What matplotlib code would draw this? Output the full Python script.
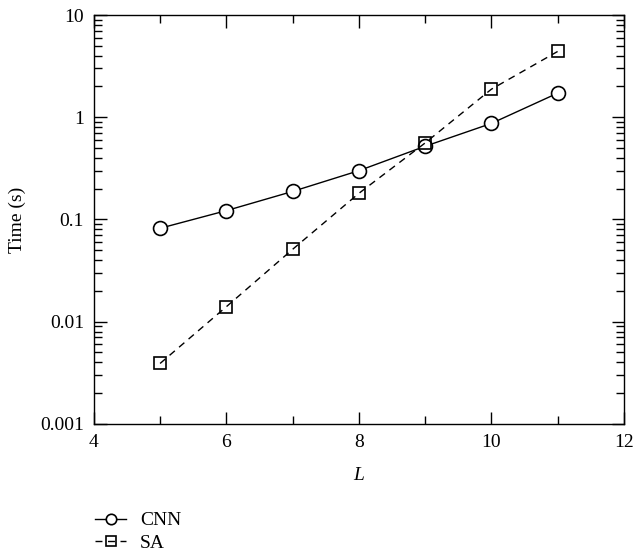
import matplotlib
matplotlib.use('Agg')
import matplotlib.pyplot as plt
from matplotlib.ticker import LogLocator, FixedLocator, NullFormatter

plt.rcParams['font.family'] = ['Liberation Serif', 'DejaVu Serif']
plt.rcParams['font.size'] = 14

# data
L = [5, 6, 7, 8, 9, 10, 11]
cnn_time = [0.082, 0.122, 0.188, 0.30, 0.52, 0.87, 1.72]
sa_time = [0.0039, 0.014, 0.051, 0.18, 0.56, 1.88, 4.4]

fig = plt.figure(figsize=(6.34, 5.57), dpi=100)
ax = fig.add_axes([0.148, 0.239, 0.836, 0.734])

ax.plot(L, cnn_time, '-', color='black', lw=1.0, marker='o', ms=10,
        mfc='white', mec='black', mew=1.2, label='CNN')
ax.plot(L, sa_time, '--', color='black', lw=1.0, dashes=(5, 4), marker='s', ms=9,
        mfc='none', mec='black', mew=1.2, label='SA')

ax.set_yscale('log')
ax.set_xlim(4, 12)
ax.set_ylim(0.001, 10)
ax.set_xticks([4, 6, 8, 10, 12])
ax.xaxis.set_minor_locator(FixedLocator([5, 7, 9, 11]))
ax.set_yticks([0.001, 0.01, 0.1, 1, 10])
ax.set_yticklabels(['0.001', '0.01', '0.1', '1', '10'])
ax.yaxis.set_minor_locator(LogLocator(base=10, subs=range(2, 10)))
ax.yaxis.set_minor_formatter(NullFormatter())

ax.tick_params(which='both', direction='in', top=True, right=True, width=1.0)
ax.tick_params(which='major', length=9, pad=7)
ax.tick_params(which='minor', length=6)
for s in ax.spines.values():
    s.set_linewidth(1.0)

ax.set_xlabel('L', fontstyle='italic', fontsize=14, labelpad=12)
ax.set_ylabel('Time (s)', fontsize=14, labelpad=10)

fig.legend(loc='upper left', bbox_to_anchor=(0.138, 0.095), frameon=False,
           handlelength=1.6, handletextpad=0.7, labelspacing=0.25, borderaxespad=0,
           markerscale=0.75, fontsize=14)

fig.savefig('out.png', dpi=100)
